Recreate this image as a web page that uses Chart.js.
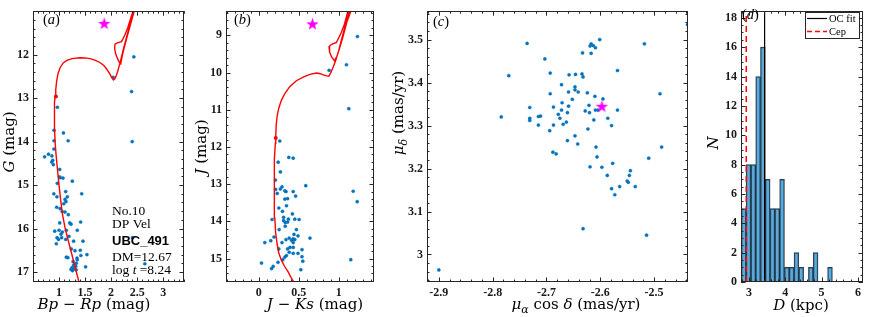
<!DOCTYPE html>
<html>
<head>
<meta charset="utf-8">
<script src="https://cdn.jsdelivr.net/npm/chart.js@4.4.1/dist/chart.umd.min.js"></script>
<style>
  body { margin: 0; background: #fff; }
  #wrap { position: relative; width: 872px; height: 317px; overflow: hidden; }
  canvas { position: absolute; top: 0; }
</style>
</head>
<body>
<div id="wrap">
  <canvas id="cmdG"></canvas>
  <canvas id="cmdJ"></canvas>
  <canvas id="pm"></canvas>
  <canvas id="dist"></canvas>
</div>
<script>
// ---- (a) Gaia CMD ----
var bpRp = [2.437, 2.04, 2.393, 2.405, 0.967, 0.904, 1.085, 1.175, 0.904, 0.902, 0.722, 0.798, 0.863, 0.879, 0.86, 0.891,
  1.013, 1.006, 1.025, 1.077, 0.967, 1.255, 1.128, 1.435, 0.9, 0.96, 1.16, 1.115, 1.134, 1.09, 0.955, 1.02, 1.06, 1.115,
  1.178, 1.013, 1.205, 1.415, 1.23, 0.917, 1.0, 1.064, 1.14, 1.35, 1.038, 0.962, 1.05, 1.19, 0.99, 1.128, 1.28, 1.46,
  0.948, 1.236, 1.408, 1.306, 1.536, 1.42, 1.14, 1.17, 1.345, 1.35, 1.27, 1.33, 1.28, 1.32, 1.51, 1.25, 1.23, 1.28,
  1.33, 1.26, 2.41, 2.648];
var gMag = [12.05, 12.52, 12.85, 14.0, 13.21, 13.74, 13.8, 13.98, 13.98, 14.17, 14.35, 14.29, 14.33, 14.43, 14.47, 14.53,
  14.64, 14.81, 14.83, 14.84, 14.96, 14.91, 15.15, 15.2, 15.2, 15.27, 15.27, 15.33, 15.38, 15.43, 15.51, 15.54, 15.61, 15.62,
  15.68, 15.87, 15.87, 15.85, 15.9, 16.06, 16.04, 16.08, 16.04, 16.04, 16.13, 16.21, 16.21, 16.18, 16.25, 16.25, 16.29, 16.29,
  16.35, 16.47, 16.5, 16.51, 16.6, 16.62, 16.66, 16.67, 16.68, 16.72, 16.76, 16.8, 16.84, 16.87, 16.88, 16.9, 16.94, 16.93,
  16.95, 16.97, 16.21, 16.81];
var isoBpRp = [1.405, 1.383, 1.3, 1.243, 1.17, 1.115, 1.07, 1.035, 1.0, 0.968, 0.943, 0.925, 0.913, 0.91, 0.915, 0.925,
  0.937, 0.955, 0.98, 1.02, 1.08, 1.15, 1.25, 1.4, 1.5, 1.594, 1.7, 1.785, 1.86, 1.914, 1.97, 2.01, 2.045, 2.075, 2.1, 2.13,
  2.18, 2.23, 2.28, 2.33, 2.38, 2.45, 2.44, 2.38, 2.32, 2.26, 2.2, 2.12, 2.075, 2.068, 2.085, 2.12, 2.16, 2.185, 2.21, 2.25,
  2.3, 2.36, 2.42, 2.47];
var isoG = [17.35, 17.23, 16.85, 16.58, 16.25, 15.98, 15.7, 15.38, 15.0, 14.62, 14.3, 14.02, 13.7, 13.34, 13.1, 12.96,
  12.8, 12.6, 12.44, 12.3, 12.19, 12.13, 12.09, 12.07, 12.075, 12.09, 12.13, 12.18, 12.25, 12.33, 12.43, 12.52, 12.58, 12.55,
  12.48, 12.37, 12.15, 11.9, 11.67, 11.45, 11.22, 10.9, 10.9, 11.15, 11.38, 11.56, 11.7, 11.73, 11.76, 11.86, 11.97, 12.08,
  12.18, 12.21, 12.05, 11.85, 11.62, 11.36, 11.1, 10.9];
var cepBpRp = [1.868];
var cepG = [11.28];
var toBpRp = [0.94];
var toG = [12.96];
var aXTicks = [1, 1.5, 2, 2.5, 3];
var aYTicks = [12, 13, 14, 15, 16, 17];

// ---- (b) 2MASS CMD ----
var jKs = [1.233, 1.096, 0.879, 1.125, 0.262, 0.375, 0.43, 0.242, 0.27, 0.208, 0.587, 0.29, 0.27, 0.325, 0.21, 0.34, 0.43,
  0.23, 0.46, 0.325, 0.36, 0.346, 0.25, 0.296, 0.42, 0.31, 0.166, 0.31, 0.37, 0.45, 0.504, 0.33, 0.36, 0.33, 0.254, 0.47,
  0.44, 0.49, 0.19, 0.38, 0.43, 0.45, 0.34, 0.41, 0.64, 0.15, 0.075, 0.29, 0.43, 0.39, 0.43, 0.36, 0.25, 0.54, 0.38, 0.43,
  0.49, 0.346, 0.54, 0.325, 0.3, 0.24, 0.55, 0.034, 0.18, 0.16, 0.525, 1.18, 1.23, 1.15];
var jMag = [9.03, 9.79, 9.94, 10.97, 11.84, 12.28, 12.3, 12.41, 12.67, 12.89, 13.04, 13.07, 13.13, 13.18, 13.14, 13.2, 13.2,
  13.25, 13.32, 13.4, 13.39, 13.58, 13.64, 13.73, 13.8, 13.89, 13.95, 13.98, 13.94, 13.94, 13.95, 14.03, 14.02, 14.13, 14.22,
  14.22, 14.35, 14.39, 14.42, 14.45, 14.47, 14.49, 14.49, 14.51, 14.45, 14.52, 14.57, 14.57, 14.57, 14.7, 14.7, 14.74, 14.74,
  14.76, 14.83, 14.86, 14.86, 14.92, 14.95, 14.96, 15.03, 15.1, 15.07, 15.12, 15.21, 15.27, 15.3, 13.19, 13.47, 15.03];
var isoJKs = [0.45, 0.4375, 0.4, 0.367, 0.32, 0.283, 0.25, 0.229, 0.21, 0.2, 0.193, 0.19, 0.195, 0.2, 0.207, 0.212, 0.218,
  0.229, 0.25, 0.283, 0.33, 0.387, 0.47, 0.554, 0.64, 0.721, 0.77, 0.804, 0.85, 0.875, 0.9, 0.93, 0.96, 1.0, 1.03, 1.06,
  1.096, 1.14, 1.12, 1.07, 1.03, 0.97, 0.91, 0.878, 0.885, 0.91, 0.945, 0.975, 1.01, 1.05, 1.1, 1.16];
var isoJ = [15.7, 15.63, 15.5, 15.36, 15.2, 15.05, 14.85, 14.61, 14.3, 13.91, 13.5, 13.12, 12.7, 12.32, 11.9, 11.7, 11.4,
  11.18, 10.95, 10.74, 10.55, 10.38, 10.22, 10.12, 10.05, 10.01, 10.03, 10.06, 10.09, 10.1, 10.0, 9.85, 9.68, 9.4, 9.15, 8.9,
  8.62, 8.3, 8.3, 8.7, 8.93, 9.19, 9.24, 9.3, 9.45, 9.58, 9.68, 9.57, 9.35, 9.05, 8.65, 8.3];
var cepJKs = [0.671];
var cepJ = [8.69];
var toJKs = [0.212];
var toJ = [11.76];
var bXTicks = [0, 0.5, 1];
var bYTicks = [9, 10, 11, 12, 13, 14, 15];

// ---- (c) proper motions ----
var pmRA = [-2.438, -2.736, -2.601, -2.617, -2.619, -2.613, -2.609, -2.518, -2.633, -2.617, -2.703, -2.568, -2.693, -2.77,
  -2.658, -2.646, -2.634, -2.632, -2.672, -2.647, -2.647, -2.659, -2.641, -2.624, -2.693, -2.489, -2.652, -2.61, -2.595,
  -2.671, -2.687, -2.659, -2.621, -2.731, -2.661, -2.672, -2.628, -2.62, -2.609, -2.604, -2.568, -2.678, -2.675, -2.612,
  -2.586, -2.784, -2.731, -2.731, -2.715, -2.711, -2.715, -2.687, -2.669, -2.663, -2.579, -2.694, -2.623, -2.647, -2.661,
  -2.642, -2.608, -2.486, -2.688, -2.682, -2.606, -2.51, -2.619, -2.597, -2.577, -2.544, -2.587, -2.546, -2.55, -2.548,
  -2.535, -2.564, -2.579, -2.573, -2.632, -2.514, -2.9];
var pmDE = [3.535, 3.491, 3.5, 3.49, 3.485, 3.486, 3.481, 3.49, 3.469, 3.468, 3.455, 3.428, 3.422, 3.416, 3.418, 3.419,
  3.42, 3.413, 3.395, 3.39, 3.383, 3.378, 3.378, 3.376, 3.374, 3.374, 3.361, 3.368, 3.362, 3.353, 3.343, 3.345, 3.347,
  3.342, 3.33, 3.336, 3.334, 3.33, 3.336, 3.336, 3.336, 3.326, 3.317, 3.313, 3.317, 3.32, 3.317, 3.312, 3.321, 3.322,
  3.301, 3.301, 3.303, 3.308, 3.3, 3.288, 3.292, 3.276, 3.265, 3.257, 3.25, 3.25, 3.238, 3.234, 3.227, 3.224, 3.204,
  3.203, 3.212, 3.195, 3.184, 3.184, 3.171, 3.168, 3.158, 3.158, 3.153, 3.139, 3.06, 3.045, 2.964];
var cepPmRA = [-2.597];
var cepPmDE = [3.345];
var cXTicks = [-2.9, -2.8, -2.7, -2.6, -2.5];
var cYTicks = [3, 3.1, 3.2, 3.3, 3.4, 3.5];

// ---- (d) distance histogram ----
var binCenters = [2.855, 2.987, 3.119, 3.251, 3.383, 3.515, 3.647, 3.779, 3.911, 4.043, 4.175, 4.307, 4.439, 4.571,
  4.703, 4.835, 4.967, 5.099, 5.231];
var binCounts = [5, 8, 8, 14, 16, 7, 5, 5, 7, 1, 1, 2, 1, 0, 1, 2, 0, 0, 1];
var ocFitD = [3.43];
var cepD = [2.925];
var dXTicks = [3, 4, 5, 6];
var dYTicks = [0, 2, 4, 6, 8, 10, 12, 14, 16, 18];

var SERIF = "'Liberation Serif', 'Times New Roman', serif";
var WIDE = "'DejaVu Serif', serif";
var SANS = "'Liberation Sans', Arial, sans-serif";
var FONTS = {
  r: '15px ' + WIDE, i: 'italic 15px ' + WIDE, s: 'italic 11px ' + WIDE,
  nr: '13.5px ' + SERIF, ni: 'italic 13.5px ' + SERIF, nb: 'bold 13px ' + SANS,
  pr: '14.5px ' + SERIF, pi: 'italic 14.5px ' + SERIF,
  lg: '10.5px ' + SERIF
};
var BLUE = 'rgb(0,114,189)';
var RED = 'rgb(255,0,0)';

function pts(xs, ys) {
  return xs.map(function (x, i) { return {x: x, y: ys[i]}; });
}

function starImage(size, color) {
  var c = document.createElement('canvas');
  c.width = c.height = size;
  var g = c.getContext('2d'), R = size / 2, r = R * 0.4;
  g.beginPath();
  for (var k = 0; k < 10; k++) {
    var a = -Math.PI / 2 + k * Math.PI / 5, rr = k % 2 ? r : R;
    g.lineTo(R + rr * Math.cos(a), R + 0.6 + rr * Math.sin(a));
  }
  g.closePath();
  g.fillStyle = color;
  g.fill();
  return c;
}
var star = starImage(13, '#ff00ff');

// canvas placement (page px) and plot box
var PANELS = {
  cmdG: {left: 0, width: 200, plotLeft: 33, plotRight: 184, xMinor: 0.1, yMinor: 0.2},
  cmdJ: {left: 190, width: 200, plotLeft: 226, plotRight: 374, xMinor: 0.1, yMinor: 0.2},
  pm: {left: 385, width: 310, plotLeft: 427, plotRight: 690, xMinor: 0.02, yMinor: 0.02},
  dist: {left: 700, width: 172, plotLeft: 741, plotRight: 863, xMinor: 0.2, yMinor: 0.5}
};

var ROT = -Math.PI / 2;
var TEXTS = {
  cmdG: [
    {x: 94, y: 309, parts: [['Bp', 'i'], [' − ', 'r'], ['Rp', 'i'], [' (mag)', 'r']]},
    {x: 14, y: 142, rot: ROT, parts: [['G', 'i'], [' (mag)', 'r']]},
    {x: 43, y: 24, align: 'left', parts: [['(', 'pr'], ['a', 'pi'], [')', 'pr']]},
    {x: 112, y: 215, align: 'left', parts: [['No.10', 'nr']]},
    {x: 112, y: 228, align: 'left', parts: [['DP Vel', 'nr']]},
    {x: 112, y: 245, align: 'left', parts: [['UBC_491', 'nb']]},
    {x: 112, y: 261, align: 'left', parts: [['DM=12.67', 'nr']]},
    {x: 112, y: 274, align: 'left', parts: [['log ', 'nr'], ['t', 'ni'], [' =8.24', 'nr']]}
  ],
  cmdJ: [
    {x: 315, y: 309, parts: [['J', 'i'], [' − ', 'r'], ['Ks', 'i'], [' (mag)', 'r']]},
    {x: 206, y: 147, rot: ROT, parts: [['J', 'i'], [' (mag)', 'r']]},
    {x: 234, y: 24, align: 'left', parts: [['(', 'pr'], ['b', 'pi'], [')', 'pr']]}
  ],
  pm: [
    {x: 576, y: 309, parts: [['μ', 'i'], ['α', 's', 4], [' cos ', 'r'], ['δ', 'i'], [' (mas/yr)', 'r']]},
    {x: 403, y: 113, rot: ROT, parts: [['μ', 'i'], ['δ', 's', 4], [' (mas/yr)', 'r']]},
    {x: 433, y: 26, align: 'left', parts: [['(', 'pr'], ['c', 'pi'], [')', 'pr']]}
  ],
  dist: [
    {x: 801, y: 310, parts: [['D', 'i'], [' (kpc)', 'r']]},
    {x: 718, y: 143, rot: ROT, parts: [['N', 'i']]},
    {x: 742, y: 19, align: 'left', parts: [['(', 'pr'], ['d', 'pi'], [')', 'pr']]}
  ]
};

function drawRich(ctx, t) {
  ctx.save();
  ctx.translate(t.x, t.y);
  if (t.rot) ctx.rotate(t.rot);
  ctx.fillStyle = '#000';
  ctx.textBaseline = 'alphabetic';
  ctx.textAlign = 'left';
  var w = 0;
  t.parts.forEach(function (p) { ctx.font = FONTS[p[1]]; w += ctx.measureText(p[0]).width; });
  var cx = t.align === 'left' ? 0 : -w / 2;
  t.parts.forEach(function (p) {
    ctx.font = FONTS[p[1]];
    ctx.fillText(p[0], cx, p[2] || 0);
    cx += ctx.measureText(p[0]).width;
  });
  ctx.restore();
}

// box with inward ticks on all four sides, then the text
var frame = {
  id: 'frame',
  afterDraw: function (chart) {
    var p = PANELS[chart.canvas.id], a = chart.chartArea, ctx = chart.ctx;
    var sx = chart.scales.x, sy = chart.scales.y;
    ctx.save();
    ctx.strokeStyle = '#262626';
    ctx.lineWidth = 1;
    ctx.beginPath();
    function mark(scale, v, len) {
      var q = Math.round(scale.getPixelForValue(v)) + 0.5;
      if (scale === sx) {
        ctx.moveTo(q, a.bottom); ctx.lineTo(q, a.bottom - len);
        ctx.moveTo(q, a.top); ctx.lineTo(q, a.top + len);
      } else {
        ctx.moveTo(a.left, q); ctx.lineTo(a.left + len, q);
        ctx.moveTo(a.right, q); ctx.lineTo(a.right - len, q);
      }
    }
    [[sx, p.xMinor], [sy, p.yMinor]].forEach(function (s) {
      var sc = s[0], step = s[1];
      var lo = Math.min(sc.min, sc.max), hi = Math.max(sc.min, sc.max);
      for (var n = Math.ceil(lo / step - 1e-6); n * step <= hi + 1e-9; n++) mark(sc, n * step, 2.5);
      sc.ticks.forEach(function (t) { mark(sc, t.value, 4.5); });
    });
    ctx.stroke();
    ctx.strokeRect(Math.round(a.left) + 0.5, Math.round(a.top) + 0.5, Math.round(a.width) - 1, Math.round(a.height) - 1);
    ctx.restore();
    ctx.save();
    ctx.translate(-p.left, 0);
    TEXTS[chart.canvas.id].forEach(function (t) { drawRich(ctx, t); });
    ctx.restore();
  }
};

var histLegend = {
  id: 'histLegend',
  afterDraw: function (chart) {
    if (chart.canvas.id !== 'dist') return;
    var ctx = chart.ctx, o = PANELS.dist.left;
    ctx.save();
    ctx.translate(-o, 0);
    ctx.fillStyle = '#fff';
    ctx.fillRect(805, 12, 54, 26);
    ctx.strokeStyle = '#262626';
    ctx.lineWidth = 1;
    ctx.strokeRect(805.5, 12.5, 54, 26);
    ctx.beginPath();
    ctx.moveTo(807, 18.5); ctx.lineTo(827, 18.5);
    ctx.strokeStyle = '#000'; ctx.lineWidth = 1.2; ctx.stroke();
    ctx.beginPath();
    ctx.setLineDash([5, 3]);
    ctx.moveTo(807, 31.5); ctx.lineTo(827, 31.5);
    ctx.strokeStyle = RED; ctx.lineWidth = 1.5; ctx.stroke();
    ctx.setLineDash([]);
    ctx.fillStyle = '#000';
    ctx.font = FONTS.lg;
    ctx.fillText(chart.data.datasets[0].label, 829, 22);
    ctx.fillText(chart.data.datasets[1].label, 829, 35);
    ctx.restore();
  }
};

function fmt(v) { return String(Math.round(v * 100) / 100); }

function axis(range, ticks, reverse, fit) {
  return {
    type: 'linear', min: range[0], max: range[1], reverse: !!reverse, offset: false,
    grid: {display: false, drawTicks: false}, border: {display: false},
    afterBuildTicks: function (s) { s.ticks = ticks.map(function (v) { return {value: v}; }); },
    afterFit: fit,
    ticks: {
      autoSkip: false, maxRotation: 0, padding: 4, color: '#1a1a1a',
      font: {family: SERIF, size: 12, weight: 'bold'}, callback: fmt
    }
  };
}

function makeChart(id, type, datasets, xr, xt, yr, yt, yRev) {
  var p = PANELS[id], cv = document.getElementById(id);
  cv.width = p.width;
  cv.height = 317;
  cv.style.left = p.left + 'px';
  return new Chart(cv, {
    type: type,
    data: {datasets: datasets},
    options: {
      responsive: false,
      animation: false,
      layout: {padding: {top: 6, left: 0, bottom: 0, right: p.left + p.width - p.plotRight}},
      plugins: {legend: {display: false}, tooltip: {enabled: false}},
      scales: {
        x: axis(xr, xt, false, function (s) { s.height = 35; }),
        y: axis(yr, yt, yRev, function (s) { s.width = p.plotLeft - p.left; })
      }
    },
    plugins: [frame, histLegend]
  });
}

function dots(xs, ys) {
  return {data: pts(xs, ys), pointRadius: 1.6, pointBackgroundColor: BLUE, pointBorderColor: BLUE, pointBorderWidth: 0.4};
}
function curve(xs, ys) {
  return {data: pts(xs, ys), showLine: true, borderColor: RED, borderWidth: 1.4, pointRadius: 0, tension: 0};
}
function mark(xs, ys) {
  return {data: pts(xs, ys), pointStyle: star, pointRadius: 6};
}
function turnoff(xs, ys) {
  return {data: pts(xs, ys), pointRadius: 2, pointBackgroundColor: RED, pointBorderWidth: 0};
}

makeChart('cmdG', 'scatter',
  [mark(cepBpRp, cepG), turnoff(toBpRp, toG), curve(isoBpRp, isoG), dots(bpRp, gMag)],
  [0.5, 3.4], aXTicks, [11, 17.23], aYTicks, true);

makeChart('cmdJ', 'scatter',
  [mark(cepJKs, cepJ), turnoff(toJKs, toJ), curve(isoJKs, isoJ), dots(jKs, jMag)],
  [-0.41, 1.44], bXTicks, [8.35, 15.63], bYTicks, true);

makeChart('pm', 'scatter',
  [mark(cepPmRA, cepPmDE), dots(pmRA, pmDE)],
  [-2.922, -2.437], cXTicks, [2.936, 3.566], cYTicks, false);

makeChart('dist', 'bar', [
  {type: 'line', label: 'OC fit', data: [{x: ocFitD[0], y: 0}, {x: ocFitD[0], y: 18.5}],
    borderColor: '#000', borderWidth: 1.2, pointRadius: 0},
  {type: 'line', label: 'Cep', data: [{x: cepD[0], y: 0}, {x: cepD[0], y: 18.5}],
    borderColor: RED, borderWidth: 1.5, borderDash: [6, 4], pointRadius: 0},
  {type: 'bar', label: 'N', data: pts(binCenters, binCounts), backgroundColor: 'rgba(0,114,189,0.62)',
    borderColor: 'rgba(20,20,20,0.85)', borderWidth: 0.8, barPercentage: 1, categoryPercentage: 1}
], [2.78, 6.14], dXTicks, [0, 18.45], dYTicks, false);
</script>
</body>
</html>
